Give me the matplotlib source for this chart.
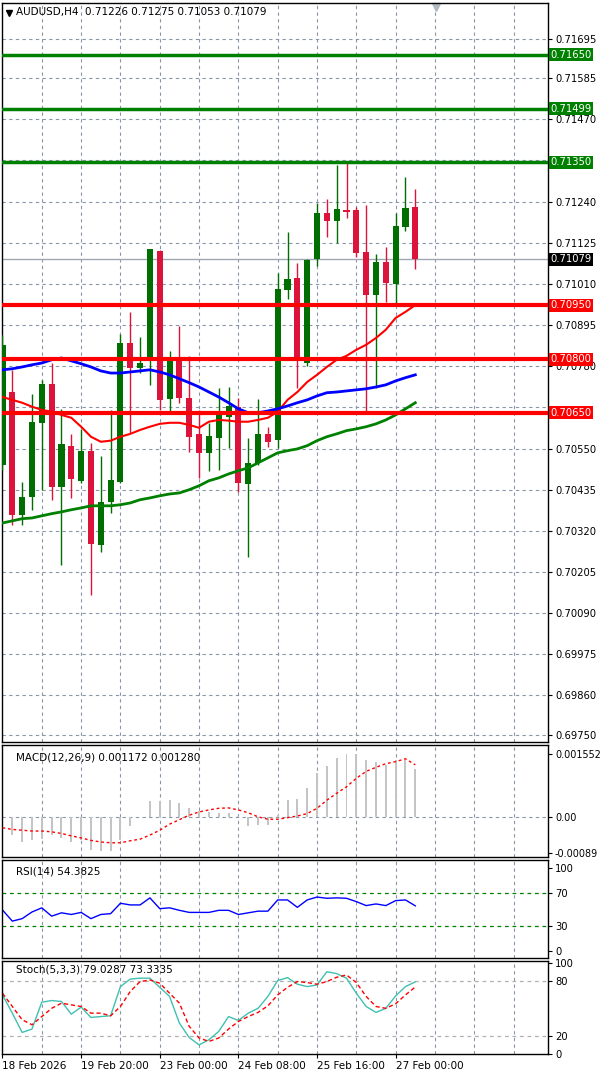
import matplotlib
matplotlib.use("Agg")
import matplotlib.pyplot as plt
import numpy as np

opens  = [0.70505,0.70708,0.70365,0.70415,0.70622,0.70731,0.70443,0.70558,0.70460,0.70544,0.70281,0.70401,0.70457,0.70845,0.70776,0.70798,0.71102,0.70689,0.70795,0.70692,0.70591,0.70538,0.70580,0.70639,0.70667,0.70451,0.70510,0.70591,0.70574,0.70993,0.71027,0.70789,0.71080,0.71209,0.71186,0.71217,0.71217,0.71100,0.70979,0.71072,0.71010,0.71169,0.71226]
highs  = [0.70868,0.70770,0.70457,0.70703,0.70742,0.70789,0.70661,0.70591,0.70605,0.70566,0.70530,0.70658,0.70871,0.70932,0.70862,0.71108,0.71105,0.70823,0.70893,0.70809,0.70658,0.70622,0.70720,0.70722,0.70692,0.70580,0.70689,0.70611,0.71041,0.71155,0.71069,0.71080,0.71237,0.71248,0.71343,0.71348,0.71225,0.71231,0.71094,0.71114,0.71209,0.71309,0.71275]
lows   = [0.70491,0.70337,0.70337,0.70379,0.70435,0.70407,0.70225,0.70412,0.70454,0.70141,0.70261,0.70370,0.70454,0.70594,0.70761,0.70728,0.70658,0.70650,0.70678,0.70541,0.70468,0.70488,0.70491,0.70552,0.70429,0.70247,0.70505,0.70555,0.70552,0.70968,0.70720,0.70781,0.71061,0.71142,0.71125,0.71195,0.71086,0.70653,0.70720,0.70960,0.70949,0.71158,0.71053]
closes = [0.70840,0.70365,0.70415,0.70625,0.70731,0.70443,0.70563,0.70465,0.70544,0.70284,0.70401,0.70463,0.70845,0.70776,0.70789,0.71108,0.70686,0.70795,0.70692,0.70583,0.70538,0.70586,0.70644,0.70669,0.70454,0.70510,0.70591,0.70569,0.70996,0.71024,0.70795,0.71077,0.71209,0.71186,0.71220,0.71211,0.71097,0.70979,0.71072,0.71013,0.71172,0.71223,0.71079]

ma_red   = [0.70694,0.70686,0.70678,0.70667,0.70658,0.70653,0.70644,0.70636,0.70611,0.70583,0.70569,0.70572,0.70583,0.70591,0.70602,0.70611,0.70619,0.70622,0.70622,0.70616,0.70608,0.70625,0.70630,0.70628,0.70625,0.70625,0.70630,0.70636,0.70653,0.70686,0.70708,0.70736,0.70756,0.70778,0.70798,0.70809,0.70826,0.70840,0.70859,0.70882,0.70915,0.70932,0.70951]
ma_blue  = [0.70770,0.70773,0.70778,0.70784,0.70789,0.70798,0.70803,0.70795,0.70787,0.70778,0.70767,0.70761,0.70761,0.70764,0.70767,0.70770,0.70764,0.70756,0.70745,0.70734,0.70722,0.70708,0.70694,0.70678,0.70661,0.70650,0.70650,0.70655,0.70661,0.70669,0.70678,0.70686,0.70697,0.70706,0.70708,0.70711,0.70714,0.70717,0.70722,0.70728,0.70739,0.70748,0.70756]
ma_green = [0.70342,0.70348,0.70354,0.70356,0.70362,0.70368,0.70373,0.70379,0.70384,0.70390,0.70390,0.70390,0.70393,0.70398,0.70407,0.70412,0.70418,0.70423,0.70426,0.70435,0.70446,0.70460,0.70468,0.70479,0.70488,0.70496,0.70510,0.70524,0.70538,0.70544,0.70549,0.70558,0.70572,0.70583,0.70591,0.70600,0.70605,0.70611,0.70619,0.70630,0.70644,0.70661,0.70678]

macd_hist = [-0.00037,-0.00045,-0.00062,-0.00056,-0.00054,-0.00045,-0.00051,-0.00062,-0.00058,-0.00081,-0.00084,-0.00084,-0.00058,-0.00023,0.0,0.00039,0.00039,0.00041,0.00035,0.00022,0.00015,0.00012,0.00010,0.00010,0.00002,-0.00023,-0.00021,-0.00021,0.00004,0.00041,0.00044,0.00070,0.00107,0.00126,0.00145,0.00155,0.00155,0.00140,0.00136,0.00128,0.00139,0.00139,0.00117]
macd_sig = [-0.00027,-0.00031,-0.00033,-0.00035,-0.00035,-0.00037,-0.00041,-0.00047,-0.00052,-0.00058,-0.00062,-0.00064,-0.00064,-0.00059,-0.00055,-0.00045,-0.00033,-0.00018,-0.00007,0.00004,0.00012,0.00017,0.00021,0.00022,0.00017,0.00010,0.0,-0.00006,-0.00006,-0.00002,0.00002,0.00008,0.00021,0.00041,0.00058,0.00074,0.00095,0.00112,0.00122,0.00131,0.00136,0.00143,0.00128]
rsi = [49.4,36,39,47,52,42,46,44,46.5,39,44,45,57.5,55.5,55.5,64,51,52,49,46.5,46.5,46.5,49,49,44,46,48,48,61.5,61.5,52.6,61.5,65,63.5,64,63.5,59.5,54.7,56.7,54.7,60.7,61.5,54.4]
stoch_k = [64.7,44.7,23.6,27.3,56.7,58.5,57.5,43.6,51.3,40,41,41.8,73.8,82,83,83,73,63,33.8,18,10,15.6,24.7,41,36.7,44.7,50,63,80.4,83.6,76.4,73.8,75.6,90,88,83,66.5,52,45.5,50,63.6,73.8,79.0]
stoch_d = [66.5,52,37.5,32,41,50,55.6,53.8,52,44.7,44.7,41.8,52,68.4,79.3,81,77.5,66.5,55.6,30.2,17.5,13.8,17.5,27.3,35.6,41,45.5,52.7,64.7,73,79.3,78.2,76.4,79.3,84,86.5,78.2,63,52,50,55,64.7,73.3]

date_pos = [0, 8, 16, 24, 32, 40]
date_labels = ["18 Feb 2026", "19 Feb 20:00", "23 Feb 00:00", "24 Feb 08:00", "25 Feb 16:00", "27 Feb 00:00"]
green_levels = [0.71650, 0.71499, 0.71350]
red_levels = [0.70950, 0.70800, 0.70650]
price_ticks = [0.71695,0.71585,0.71470,0.71240,0.71125,0.71010,0.70895,0.70780,0.70550,0.70435,0.70320,0.70205,0.70090,0.69975,0.69860,0.69750]
grid_prices = price_ticks + [0.71355, 0.70665]
last_price = 0.71079

W, H = 600, 1074
FS = 7.2
fig = plt.figure(figsize=(6, 10.74), dpi=100)
def mk(top, bot):
    return fig.add_axes([2/W, 1-bot/H, 546/W, (bot-top)/H])
ax = mk(3, 742); axm = mk(745, 857); axr = mk(860, 958); axs = mk(961, 1054)
GC = '#8a96a8'
n = len(closes); x = np.arange(n)
xl = (-0.05, 55.5)
for a in (ax, axm, axr, axs):
    a.set_xlim(*xl)
    for s in a.spines.values(): s.set_color('black'); s.set_linewidth(1)
    for p in range(4, 56, 4):
        a.axvline(p, color=GC, ls=(0, (3, 3)), lw=0.8, zorder=0)
    a.yaxis.tick_right()
    a.tick_params(axis='y', labelsize=FS, length=3, pad=2, colors='black')
    a.set_xticks([])

# main
ax.set_ylim(0.69730, 0.71795)
for g in grid_prices:
    ax.axhline(g, color=GC, ls=(0, (3, 3)), lw=0.8, zorder=0)
ax.set_yticks(price_ticks)
ax.set_yticklabels([f"{v:.5f}" for v in price_ticks])
ax.axhline(last_price, color='#a0a8b4', lw=1, zorder=1)
for i in range(n):
    up = closes[i] >= opens[i]
    c = '#006e00' if up else '#dc143c'
    ax.vlines(x[i], lows[i], highs[i], color=c, lw=1, zorder=3)
    lo, hi = min(opens[i], closes[i]), max(opens[i], closes[i])
    ax.bar(x[i], max(hi-lo, 0.00002), bottom=lo, width=0.62, color=c, zorder=4)
ax.plot(x, ma_red, color='#ff0000', lw=1.5, zorder=5)
ax.plot(x, ma_blue, color='#0000ff', lw=2, zorder=5)
ax.plot(x, ma_green, color='#008000', lw=2, zorder=5)
tr = ax.get_yaxis_transform()
def tag(lv, fc):
    ax.text(1.004, lv, f"{lv:.5f}", transform=tr, va='center', ha='left', fontsize=FS, color='white',
            bbox=dict(boxstyle='square,pad=0.15', fc=fc, ec='none'), clip_on=False, zorder=10)
for lv in green_levels:
    ax.axhline(lv, color='#008000', lw=2.5, zorder=6); tag(lv, '#008000')
for lv in red_levels:
    ax.axhline(lv, color='#ff0000', lw=3, zorder=6); tag(lv, '#ff0000')
tag(last_price, 'black')
ax.text(0.025, 0.994, "AUDUSD,H4  0.71226 0.71275 0.71053 0.71079", transform=ax.transAxes,
        va='top', ha='left', fontsize=7.5)
ax.plot([0.013], [0.987], marker='v', color='black', ms=4, transform=ax.transAxes, clip_on=False)
ax.plot([0.795], [0.994], marker='v', color='#b0b8c4', ms=6, transform=ax.transAxes, clip_on=False)

# MACD
axm.set_ylim(-0.00099, 0.00177)
axm.axhline(0, color=GC, ls=(0, (3, 3)), lw=0.8, zorder=0)
axm.bar(x, macd_hist, width=0.2, color='#c4c4c4', zorder=2)
axm.plot(x, macd_sig, color='#ff0000', ls=(0, (2, 2)), lw=1, zorder=3)
axm.set_yticks([0.001552, 0.0, -0.00089]); axm.set_yticklabels(["0.001552", "0.00", "-0.00089"])
axm.tick_params(axis='y', labelsize=6.9)
axm.text(0.025, 0.93, "MACD(12,26,9) 0.001172 0.001280", transform=axm.transAxes, va='top', fontsize=7.5)

# RSI
axr.set_ylim(-8.4, 109.6)
for lv in (70, 30):
    axr.axhline(lv, color='#008000', ls=(0, (3, 3)), lw=0.9)
axr.plot(x, rsi, color='#0000ff', lw=1)
axr.set_yticks([100, 70, 30, 0])
axr.text(0.025, 0.93, "RSI(14) 54.3825", transform=axr.transAxes, va='top', fontsize=7.5)

# Stoch
axs.set_ylim(0.4, 101.8)
for lv in (80, 20):
    axs.axhline(lv, color='#b0b0b0', ls=(0, (3, 3)), lw=0.9)
axs.plot(x, stoch_k, color='#40c0b0', lw=1)
axs.plot(x, stoch_d, color='#ff0000', ls=(0, (3, 2)), lw=1)
axs.set_yticks([100, 80, 20, 0])
axs.text(0.025, 0.96, "Stoch(5,3,3) 79.0287 73.3335", transform=axs.transAxes, va='top', fontsize=7.5)
axs.set_xticks(date_pos)
axs.set_xticklabels(date_labels, ha='left', fontsize=7.5)
axs.tick_params(axis='x', length=3, pad=2)

fig.savefig("out.png", dpi=100, facecolor='white')
